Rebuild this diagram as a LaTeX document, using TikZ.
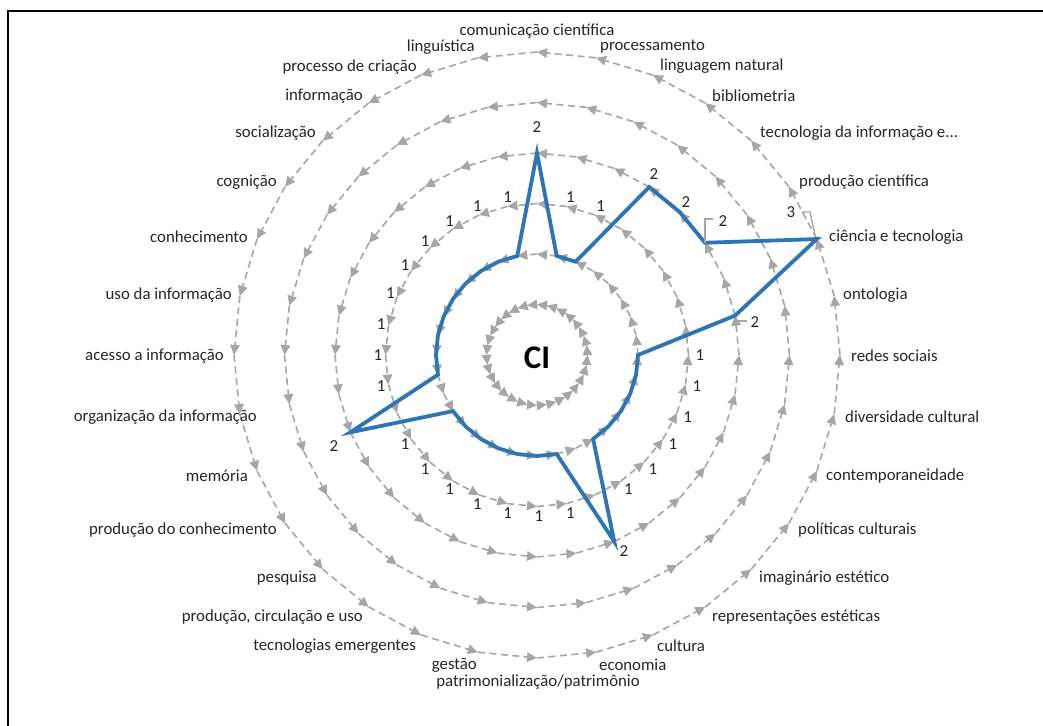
\documentclass[tikz,border=0pt]{standalone}
\usepackage{fontspec}
\setmainfont{Carlito}
\usetikzlibrary{arrows.meta,calc}
\definecolor{ringgray}{RGB}{166,166,166}
\definecolor{serieblue}{RGB}{46,117,182}
\begin{document}
\begin{tikzpicture}[x=1pt,y=1pt,
  ringseg/.style={draw=ringgray, line width=1.6pt, dash pattern=on 7pt off 4.5pt, -{Triangle[length=10pt,width=9.5pt]}},
  catlab/.style={font=\fontsize{16.8}{19}\selectfont, inner sep=0pt, text=black!85},
  vallab/.style={font=\fontsize{16.8}{19}\selectfont, inner sep=0pt, text=black!85},
  leader/.style={draw=ringgray, line width=1.4pt},
  series/.style={draw=serieblue, line width=3.8pt, line join=miter},
  frameline/.style={draw=black, line width=2pt, line join=miter}]
\useasboundingbox (-537,-370) rectangle (506,355);
\fill[white] (-537,-370) rectangle (506,355);
\draw[frameline] (-528.5,-380) -- (-528.5,343.5) -- (515,343.5);
% grid rings
\foreach \j in {1,...,6}{
  \foreach \k in {1,...,32}{
    \coordinate (g\j-\k) at ({90-(\k-1)*11.25}:{50.5*\j});
  }
  \foreach \k [evaluate=\k as \p using {int(mod(\k+30,32)+1)}] in {1,...,32}{
    \draw[ringseg] (g\j-\k) -- (g\j-\p);
  }
}
% series
\foreach \v [count=\k] in {2,1,1,2,2,2,3,2,1,1,1,1,1,1,2,1,1,1,1,1,1,1,2,1,1,1,1,1,1,1,1,1}{
  \coordinate (d\k) at ({90-(\k-1)*11.25}:{101*\v});
}
\draw[series] (d1) \foreach \k in {2,...,32}{ -- (d\k)} -- cycle;
% value labels 1
\foreach \k in {2,3,9,10,11,12,13,14,16,17,18,19,20,21,22,24,25,26,27,28,29,30,31,32}{
  \node[vallab] (one\k) at ($({90-(\k-1)*11.25}:161)+(2,0)$) {1};
}
% value labels 2 and 3
\node[vallab] (two1) at (0,228) {2};
\node[vallab] (two4) at (117,181) {2};
\node[vallab] (two5) at (149,153) {2};
\node[vallab] (two6) at (186,134) {2};
\node[vallab] (three7) at (254,143) {3};
\node[vallab] (two8) at (218,33) {2};
\node[vallab] (two15) at (87,-196) {2};
\node[vallab] (two23) at (-203,-91) {2};
\coordinate (l6a) at (168,112);
\coordinate (l6b) at (168,136);
\coordinate (l6c) at (176,136);
\draw[leader] (l6a) -- (l6b) -- (l6c);
\coordinate (l7a) at (265,143);
\coordinate (l7b) at (273,143);
\coordinate (l7c) at (278,120);
\draw[leader] (l7a) -- (l7b) -- (l7c);
\coordinate (l8a) at (201,34);
\coordinate (l8b) at (210,34);
\draw[leader] (l8a) -- (l8b);
% centre
\node[font=\fontsize{33}{36}\selectfont\bfseries, inner sep=0pt] (ci) at (0,-3) {CI};
% category labels
\node[catlab] (c1) at (0,324) {comunicação científica};
\node[catlab, anchor=west] (c2) at (63,308) {processamento};
\node[catlab, anchor=west] (c3) at (123,289) {linguagem natural};
\node[catlab, anchor=west] (c4) at (175,259) {bibliometria};
\node[catlab, anchor=west] (c5) at (223,222) {tecnologia da informação e...};
\node[catlab, anchor=west] (c6) at (262,173) {produção científica};
\node[catlab, anchor=west] (c7) at (292,118) {ciência e tecnologia};
\node[catlab, anchor=west] (c8) at (306,60) {ontologia};
\node[catlab, anchor=west] (c9) at (314,-1) {redes sociais};
\node[catlab, anchor=west] (c10) at (308,-62) {diversidade cultural};
\node[catlab, anchor=west] (c11) at (289,-121) {contemporaneidade};
\node[catlab, anchor=west] (c12) at (261,-175) {políticas culturais};
\node[catlab, anchor=west] (c13) at (222,-223) {imaginário estético};
\node[catlab, anchor=west] (c14) at (175,-262) {representações estéticas};
\node[catlab, anchor=west] (c15) at (120,-291) {cultura};
\node[catlab, anchor=west] (c16) at (62,-310) {economia};
\node[catlab] (c17) at (1,-327) {patrimonialização/patrimônio};
\node[catlab, anchor=east] (c18) at (-60,-310) {gestão};
\node[catlab, anchor=east] (c19) at (-121,-291) {tecnologias emergentes};
\node[catlab, anchor=east] (c20) at (-174,-262) {produção, circulação e uso};
\node[catlab, anchor=east] (c21) at (-220,-223) {pesquisa};
\node[catlab, anchor=east] (c22) at (-260,-175) {produção do conhecimento};
\node[catlab, anchor=east] (c23) at (-289,-121) {memória};
\node[catlab, anchor=east] (c24) at (-280,-62) {organização da informação};
\node[catlab, anchor=east] (c25) at (-313,-1) {acesso a informação};
\node[catlab, anchor=east] (c26) at (-305,60) {uso da informação};
\node[catlab, anchor=east] (c27) at (-289,118) {conhecimento};
\node[catlab, anchor=east] (c28) at (-260,173) {cognição};
\node[catlab, anchor=east] (c29) at (-221,222) {socialização};
\node[catlab, anchor=east] (c30) at (-174,259) {informação};
\node[catlab, anchor=east] (c31) at (-120,288) {processo de criação};
\node[catlab, anchor=east] (c32) at (-62,308) {linguística};
\end{tikzpicture}
\end{document}
